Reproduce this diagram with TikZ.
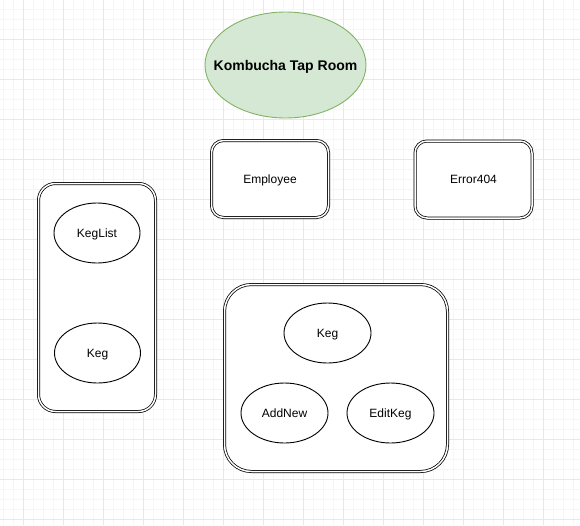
\documentclass[tikz,border=0pt]{standalone}
\usepackage{fontspec}
\setmainfont{Liberation Sans}
\usetikzlibrary{shapes.geometric}
\definecolor{gridmajor}{HTML}{E8E8E8}
\definecolor{gridminor}{HTML}{F6F6F6}
\definecolor{titlefill}{HTML}{D5E8D4}
\definecolor{titledraw}{HTML}{82B366}
\tikzset{
  dbox/.style={draw=black, line width=0.75pt, double=white, double distance=1.5pt, fill=white, inner sep=0pt},
  lbl/.style={font=\fontsize{12}{14}\selectfont, text height=8.6pt, text depth=0pt},
  oval/.style={ellipse, draw=black, line width=0.9pt, fill=white, inner sep=0pt, minimum width=87pt, minimum height=60pt, lbl}
}
\begin{document}
\begin{tikzpicture}[x=1pt,y=-1pt]
\useasboundingbox (0,0) rectangle (580,525);
\fill[white] (0,0) rectangle (580,525);
% grid
\foreach \x in {3,13,...,580} \draw[gridminor, line width=0.8pt] (\x,0) -- (\x,525);
\foreach \y in {9.5,19.5,...,525} \draw[gridminor, line width=0.8pt] (0,\y) -- (580,\y);
\foreach \x in {23,63,...,580} \draw[gridmajor, line width=0.8pt] (\x,0) -- (\x,525);
\foreach \y in {39.5,79.5,...,525} \draw[gridmajor, line width=0.8pt] (0,\y) -- (580,\y);
% title
\node[ellipse, draw=titledraw, fill=titlefill, line width=0.9pt, inner sep=0pt, minimum width=161pt, minimum height=106pt] (title) at (285.5,65) {};
\node[font=\bfseries\fontsize{14}{16}\selectfont, text height=10pt, text depth=0pt, inner sep=0pt] (titletext) at (title.center) {Kombucha Tap Room};
% boxes
\node[dbox, rounded corners=12pt, minimum width=117pt, minimum height=77pt, lbl] (employee) at (270,179) {Employee};
\node[dbox, rounded corners=12pt, minimum width=117pt, minimum height=77pt, lbl] (error) at (473.5,179.5) {Error404};
\node[dbox, rounded corners=17pt, minimum width=117pt, minimum height=228pt] (leftbox) at (97,297.5) {};
\node[dbox, rounded corners=27pt, minimum width=223pt, minimum height=187pt] (bottombox) at (336,378) {};
% ovals
\node[oval, minimum width=86pt] (keglist) at (97,233) {KegList};
\node[oval, minimum width=86pt] (kegleft) at (97.5,353) {Keg};
\node[oval] (keg) at (327.5,333) {Keg};
\node[oval] (addnew) at (284.5,413) {AddNew};
\node[oval] (editkeg) at (390.5,413) {EditKeg};
\end{tikzpicture}
\end{document}
